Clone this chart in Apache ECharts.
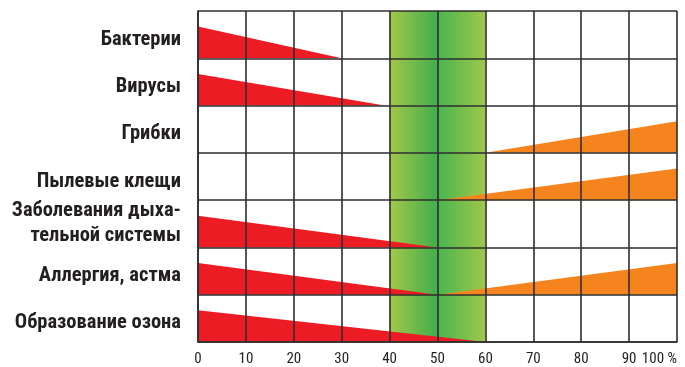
<!DOCTYPE html>
<html>
<head>
<meta charset="utf-8">
<script src="https://cdn.jsdelivr.net/npm/echarts@6/dist/echarts.min.js"></script>
<style>
  html, body { margin: 0; padding: 0; background: #fff; }
  #chart { width: 685px; height: 367px; }
</style>
</head>
<body>
<div id="chart"></div>
<script>
// rows, top to bottom
const categories = [
  'Бактерии',
  'Вирусы',
  'Грибки',
  'Пылевые клещи',
  'Заболевания дыха-\nтельной системы',
  'Аллергия, астма',
  'Образование озона'
];
// red wedge: risk falling from 0 % to this humidity (null = none)
const redEnd = [30, 39, null, null, 50, 50, 60];
// orange wedge: risk rising from this humidity to 100 % (null = none)
const orangeStart = [null, null, 60, 50, null, 50, null];
// wedge height at its tall end, as a share of the row
const peakShare = [0.67, 0.67, 0.67, 0.67, 0.67, 0.67, 0.67];
// optimal humidity zone
const optimalZone = [40, 60];
const xTicks = [0, 10, 20, 30, 40, 50, 60, 70, 80, 90, 100];

const redData = [];
const orangeData = [];
categories.forEach((c, i) => {
  if (redEnd[i] != null) redData.push([0, redEnd[i], i, peakShare[i]]);
  if (orangeStart[i] != null) orangeData.push([orangeStart[i], 100, i, peakShare[i]]);
});

function wedge(falling, color) {
  return function (params, api) {
    const row = api.value(2);
    const start = api.coord([api.value(0), row]);
    const end = api.coord([api.value(1), row]);
    const band = api.size([0, 1])[1];
    const bottom = start[1] + band / 2;
    const h = band * api.value(3);
    const pts = falling
      ? [[start[0], bottom], [start[0], bottom - h], [end[0], bottom]]
      : [[start[0], bottom], [end[0], bottom - h], [end[0], bottom]];
    return {
      type: 'polygon',
      shape: { points: pts },
      style: { fill: color }
    };
  };
}

const chart = echarts.init(document.getElementById('chart'));
const lineStyle = { color: '#2e2e2e', width: 1.6 };
const labelFont = "'Roboto Condensed', 'Liberation Sans Narrow', Roboto, sans-serif";

chart.setOption({
  animation: false,
  grid: { left: 198, right: 8, top: 11, bottom: 21 },
  xAxis: {
    type: 'value',
    min: xTicks[0],
    max: xTicks[xTicks.length - 1],
    interval: 10,
    z: 10,
    axisLine: { show: true, lineStyle },
    axisTick: { show: false },
    splitLine: { show: true, lineStyle },
    axisLabel: {
      margin: 10,
      fontFamily: labelFont,
      fontSize: 15,
      color: '#231f20',
      alignMaxLabel: 'right',
      formatter: v => (v === 100 ? '100 %' : String(v))
    }
  },
  yAxis: {
    type: 'category',
    data: categories,
    inverse: true,
    z: 10,
    axisLine: { show: true, lineStyle },
    axisTick: { show: false },
    splitLine: { show: true, lineStyle },
    axisLabel: {
      margin: 17,
      fontFamily: labelFont,
      fontWeight: 'bold',
      fontSize: 20.5,
      lineHeight: 25,
      color: '#231f20',
      align: 'right',
      formatter: v => (v.indexOf('\n') >= 0 ? v : '{s|' + v + '}'),
      rich: {
        s: {
          fontFamily: labelFont,
          fontWeight: 'bold',
          fontSize: 20.5,
          color: '#231f20',
          padding: [10, 0, 0, 0]
        }
      }
    }
  },
  series: [
    {
      type: 'custom',
      z: 1,
      data: [],
      renderItem: () => null,
      markArea: {
        silent: true,
        itemStyle: {
          color: new echarts.graphic.LinearGradient(0, 0, 1, 0, [
            { offset: 0, color: '#a3c84a' },
            { offset: 0.48, color: '#45ae4b' },
            { offset: 0.52, color: '#4db54f' },
            { offset: 1, color: '#9fc74c' }
          ])
        },
        data: [[{ xAxis: optimalZone[0] }, { xAxis: optimalZone[1] }]]
      }
    },
    {
      type: 'custom',
      z: 2,
      data: redData,
      encode: { x: [0, 1], y: 2 },
      renderItem: wedge(true, '#ed1c24')
    },
    {
      type: 'custom',
      z: 2,
      data: orangeData,
      encode: { x: [0, 1], y: 2 },
      renderItem: wedge(false, '#f5841f')
    }
  ]
});
</script>
</body>
</html>
